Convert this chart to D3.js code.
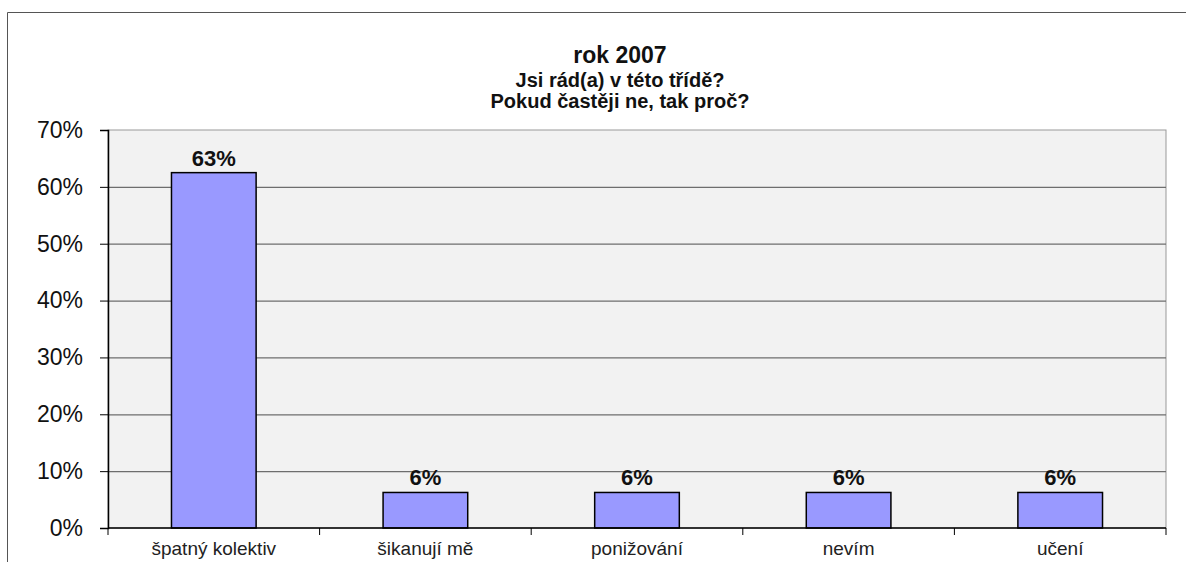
<!DOCTYPE html>
<meta charset="utf-8">
<style>
body { margin: 0; background: #fff; }
text { font-family: Arial, "Liberation Sans", sans-serif; }
</style>
<svg width="1186" height="562"></svg>
<script src="https://d3js.org/d3.v7.min.js"></script>
<script>

var categories = ["špatný kolektiv", "šikanují mě", "ponižování", "nevím", "učení"];
var values = [62.5, 6.25, 6.25, 6.25, 6.25];
var valueLabels = ["63%", "6%", "6%", "6%", "6%"];
var yTicks = [0, 10, 20, 30, 40, 50, 60, 70];
var titleLines = ["rok 2007", "Jsi rád(a) v této třídě?", "Pokud častěji ne, tak proč?"];

var svg = d3.select("svg");

var plotLeft = 108, plotRight = 1166, plotTop = 130, plotBottom = 528;

// outer chart border (only top and left visible)
svg.append("path")
    .attr("d", "M7.5,562 V12.5 H1186")
    .attr("fill", "none")
    .attr("stroke", "#555")
    .attr("stroke-width", 1);

var x = d3.scaleBand().domain(categories).range([plotLeft, plotRight]).paddingInner(0.6).paddingOuter(0.3);
var band = d3.scaleBand().domain(categories).range([plotLeft, plotRight]);
var y = d3.scaleLinear().domain([0, 70]).range([plotBottom, plotTop]);

svg.append("rect")
    .attr("x", plotLeft).attr("y", plotTop)
    .attr("width", plotRight - plotLeft).attr("height", plotBottom - plotTop)
    .attr("fill", "#f2f2f2")
    .attr("stroke", "#999");

svg.append("g")
  .selectAll("line")
  .data(yTicks.filter(function(d) { return d > 0 && d < 70; }))
  .enter().append("line")
    .attr("x1", plotLeft).attr("x2", plotRight)
    .attr("y1", function(d) { return y(d) + 0.5; })
    .attr("y2", function(d) { return y(d) + 0.5; })
    .attr("stroke", "#6e6e6e")
    .attr("stroke-width", 1.2);

svg.append("g")
  .selectAll("rect")
  .data(values)
  .enter().append("rect")
    .attr("x", function(d, i) { return x(categories[i]); })
    .attr("y", function(d) { return y(d); })
    .attr("width", x.bandwidth())
    .attr("height", function(d) { return plotBottom - y(d); })
    .attr("fill", "#9999ff")
    .attr("stroke", "#000")
    .attr("stroke-width", 1.5);

svg.append("g")
  .selectAll("text")
  .data(values)
  .enter().append("text")
    .attr("x", function(d, i) { return x(categories[i]) + x.bandwidth() / 2; })
    .attr("y", function(d) { return y(d) - 7; })
    .attr("text-anchor", "middle")
    .style("font-size", "22px")
    .style("font-weight", "bold")
    .attr("fill", "#111")
    .text(function(d, i) { return valueLabels[i]; });

// y axis
var yAxis = svg.append("g")
    .attr("transform", "translate(" + plotLeft + ",0)")
    .call(d3.axisLeft(y).tickValues(yTicks).tickSize(8).tickPadding(17)
      .tickFormat(function(d) { return d + "%"; }));
yAxis.select(".domain").attr("stroke", "#000").attr("stroke-width", 1.5);
yAxis.selectAll(".tick line").attr("stroke", "#000");
yAxis.selectAll(".tick text").style("font-size", "23px").attr("fill", "#111")
    .style("font-family", "Arial, 'Liberation Sans', sans-serif");

// x axis
var xAxis = svg.append("g")
    .attr("transform", "translate(0," + plotBottom + ")");
xAxis.append("line")
    .attr("x1", plotLeft).attr("x2", plotRight)
    .attr("stroke", "#000").attr("stroke-width", 1.5);
xAxis.selectAll("line.tk")
  .data(categories.map(function(c) { return band(c); }).concat([plotRight]))
  .enter().append("line")
    .attr("class", "tk")
    .attr("x1", function(d) { return d; }).attr("x2", function(d) { return d; })
    .attr("y1", 0).attr("y2", 7)
    .attr("stroke", "#000");
xAxis.selectAll("text")
  .data(categories)
  .enter().append("text")
    .attr("x", function(d) { return band(d) + band.bandwidth() / 2; })
    .attr("y", 27)
    .attr("text-anchor", "middle")
    .style("font-size", "19px")
    .attr("fill", "#222")
    .text(function(d) { return d; });

// title
var titleY = [63, 87, 108];
var titleSize = [23, 20, 20];
svg.append("g")
  .selectAll("text")
  .data(titleLines)
  .enter().append("text")
    .attr("x", 620)
    .attr("y", function(d, i) { return titleY[i]; })
    .attr("text-anchor", "middle")
    .style("font-size", function(d, i) { return titleSize[i] + "px"; })
    .style("font-weight", "bold")
    .attr("fill", "#111")
    .text(function(d) { return d; });

</script>
